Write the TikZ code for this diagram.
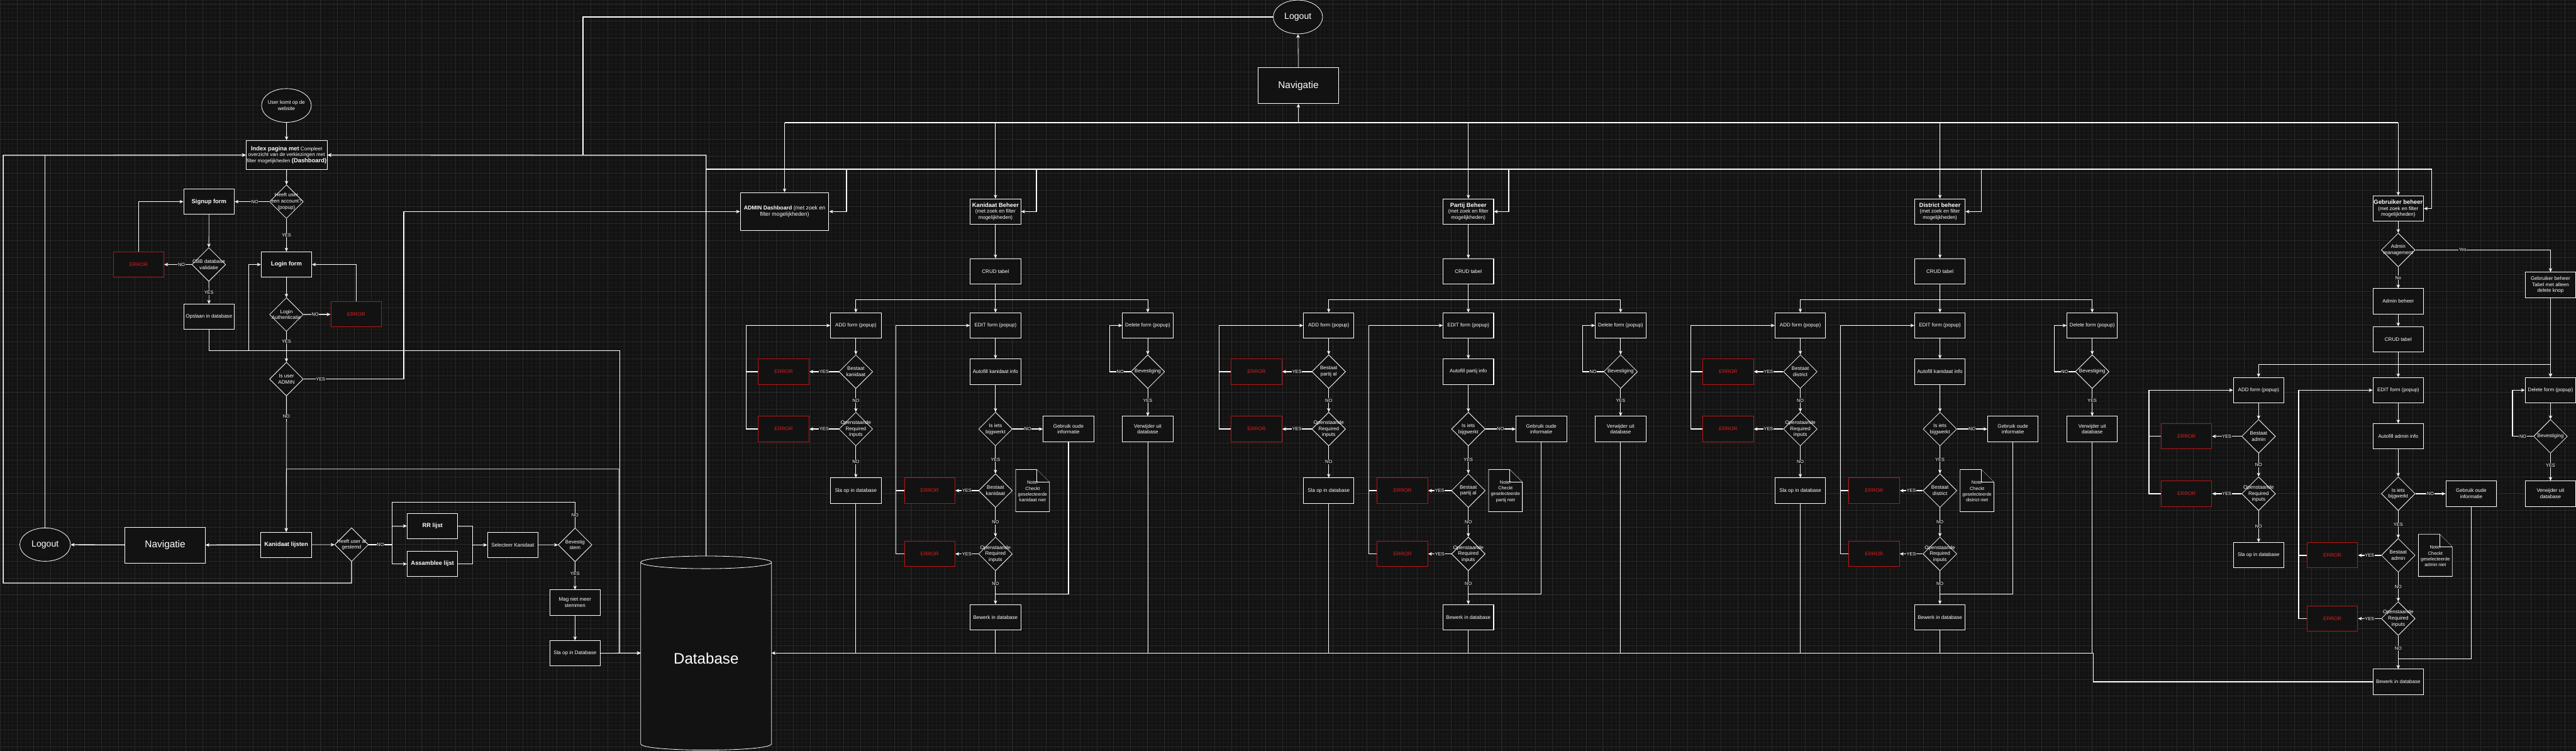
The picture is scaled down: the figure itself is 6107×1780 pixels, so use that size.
\documentclass[tikz,border=0pt]{standalone}
\usepackage{fontspec}
\setmainfont{Liberation Sans}
\usetikzlibrary{positioning, shapes.geometric, arrows.meta}

\definecolor{canvas}{RGB}{18,18,18}
\definecolor{gridminor}{RGB}{27,27,27}
\definecolor{gridmajor}{RGB}{42,42,42}
\definecolor{errred}{RGB}{190,20,20}
\definecolor{errtext}{RGB}{225,30,30}

\tikzset{
  box/.style={draw=white, fill=canvas, line width=1.5pt, minimum width=120pt, minimum height=60pt,
    align=center, inner sep=0pt, text=white, font=\fontsize{12}{14.5}\selectfont},
  errbox/.style={box, draw=errred, text=errtext},
  oval/.style={ellipse, draw=white, fill=canvas, line width=1.2pt, align=center, inner sep=-3pt,
    text=white, font=\fontsize{12}{14.5}\selectfont},
  dec/.style={diamond, draw=white, fill=canvas, line width=1.2pt, minimum width=80pt,
    minimum height=80pt, inner sep=0pt},
  dectext/.style={align=center, text=white, inner sep=0pt, font=\fontsize{12}{14.5}\selectfont},
  notebox/.style={draw=white, fill=canvas, line width=1.2pt, line join=miter},
  notetext/.style={align=center, text=white, inner sep=0pt, font=\fontsize{11}{14}\selectfont},
  lbl/.style={fill=canvas, text=white, inner sep=1pt, font=\fontsize{11}{12}\selectfont},
  wire/.style={draw=white, line width=1.2pt},
  fatwire/.style={draw=white, line width=2pt},
  flow/.style={wire, -{Stealth[length=9pt, width=8pt, inset=2.5pt]}},
  fatflow/.style={fatwire, -{Stealth[length=9pt, width=8pt, inset=2.5pt]}},
}

\newcommand{\boxtitle}[1]{{\fontsize{14}{16}\selectfont\bfseries #1}}

% one CRUD block: #1 prefix, #2 centre x, #3 y shift, #4 bestaat text, #5 autofill text, #6 note subject
\newcommand{\crudblock}[6]{%
  \begin{scope}[shift={(#2,#3)}]
    \node[box] (#1add) at (-331,771.5) {ADD form (popup)};
    \node[box] (#1edit) at (0,771.5) {EDIT form (popup)};
    \node[box] (#1del) at (361,771.5) {Delete form (popup)};
    % add branch
    \node[dec, label={[dectext]center:#4}] (#1addq) at (-331,881) {};
    \node[errbox] (#1adderr) at (-502,881) {ERROR};
    \node[dec, label={[dectext]center:Openstaande\\Required\\inputs}] (#1addreq) at (-331,1017) {};
    \node[errbox] (#1addreqerr) at (-502,1017) {ERROR};
    \node[box] (#1addsave) at (-331,1163) {Sla op in database};
    % edit branch
    \node[box] (#1fill) at (0,881) {#5};
    \node[dec, label={[dectext]center:Is iets\\bijgwerkt}] (#1changed) at (0,1017) {};
    \node[box] (#1old) at (173,1017) {Gebruik oude\\informatie};
    \node[dec, label={[dectext]center:#4}] (#1editq) at (0,1163) {};
    \node[errbox] (#1editerr) at (-156,1163) {ERROR};
    \draw[notebox] (48,1113) -- (98,1113) -- (128,1143) -- (128,1213) -- (48,1213) -- cycle;
    \draw[notebox] (98,1113) -- (98,1143) -- (128,1143);
    \node[notetext] (#1note) at (88,1165) {Note:\\Checkt\\geselecteerde\\#6 niet};
    \node[dec, label={[dectext]center:Openstaande\\Required\\inputs}] (#1editreq) at (0,1313) {};
    \node[errbox] (#1editreqerr) at (-156,1313) {ERROR};
    \node[box] (#1save) at (0,1463) {Bewerk in database};
    % delete branch
    \node[dec, label={[dectext]center:Bevestiging}] (#1sure) at (361,881) {};
    \node[box] (#1rm) at (361,1017) {Verwijder uit\\database};
    % connectors
    \draw[flow] (0,710) -| (#1add.north);
    \draw[flow] (0,710) -| (#1del.north);
    \draw[flow] (#1add) -- (#1addq);
    \draw[fatflow] (#1addq) -- node[lbl]{YES} (#1adderr);
    \draw[flow] (#1addq) -- node[lbl]{NO} (#1addreq);
    \draw[fatflow] (#1addreq) -- node[lbl]{YES} (#1addreqerr);
    \draw[flow] (#1addreq) -- node[lbl]{NO} (#1addsave);
    \draw[fatwire] (#1adderr.west) -- (-591,881);
    \draw[fatflow] (#1addreqerr.west) -- (-591,1017) |- (#1add.west);
    \draw[flow] (#1edit) -- (#1fill);
    \draw[flow] (#1fill) -- (#1changed);
    \draw[fatflow] (#1changed) -- node[lbl]{NO} (#1old);
    \draw[flow] (#1changed) -- node[lbl]{YES} (#1editq);
    \draw[fatflow] (#1editq) -- node[lbl]{YES} (#1editerr);
    \draw[flow] (#1editq) -- node[lbl]{NO} (#1editreq);
    \draw[fatflow] (#1editreq) -- node[lbl]{YES} (#1editreqerr);
    \draw[flow] (#1editreq) -- node[lbl, pos=0.38]{NO} (#1save);
    \draw[fatwire] (#1old.south) |- (0,1408);
    \draw[fatwire] (#1editerr.west) -- (-236,1163);
    \draw[fatflow] (#1editreqerr.west) -- (-236,1313) |- (#1edit.west);
    \draw[flow] (#1del) -- (#1sure);
    \draw[fatflow] (#1sure.west) -- node[lbl]{NO} (271,881) |- (#1del.west);
    \draw[flow] (#1sure) -- node[lbl, pos=0.43]{YES} (#1rm);
  \end{scope}}

\begin{document}
\begin{tikzpicture}[x=1pt, y=-1pt]
  % canvas and grid
  \fill[canvas] (0,0) rectangle (6107,1780);
  \useasboundingbox (0,0) rectangle (6107,1780);
  \begin{scope}[y=1pt, yshift=-10pt]
    \draw[gridminor, line width=0.6pt] (0,-1800) grid[step=10] (6107,20);
    \draw[gridmajor, line width=0.8pt] (0,-1800) grid[step=40] (6107,20);
  \end{scope}

  % login and voting flow
  \node[oval, minimum width=118pt, minimum height=80pt] (start) at (679,250) {User komt op de\\website};
  \node[box, minimum width=192pt, minimum height=69pt] (index) at (679.5,367.5)
    {\boxtitle{Index pagina met} Compleet\\overzicht van de verkiezingen met\\filter mogelijkheden \boxtitle{(Dashboard)}};
  \node[dec, label={[dectext]center:Heeft user\\een account?\\(popup)}] (hasacc) at (679,478) {};
  \node[box] (signup) at (495.5,478) {\boxtitle{Signup form}};
  \node[dec, label={[dectext]center:CBB database\\validatie}] (cbb) at (495,627) {};
  \node[errbox] (signerr) at (328.5,627) {ERROR};
  \node[box] (opslaan) at (495.5,751) {Opslaan in database};
  \node[box] (login) at (679,627) {\boxtitle{Login form}};
  \node[dec, label={[dectext]center:Login\\Authenticatie}] (auth) at (679,745.6) {};
  \node[errbox] (loginerr) at (844.4,745) {ERROR};
  \node[dec, label={[dectext]center:Is user\\ADMIN}] (isadmin) at (679,898.6) {};
  \node[box] (kanlijst) at (678.6,1291.5) {\boxtitle{Kanidaat lijsten}};
  \node[box, minimum width=190pt, minimum height=85pt, font=\fontsize{23}{26}\selectfont] (navleft) at (391.5,1292) {Navigatie};
  \node[oval, minimum width=120pt, minimum height=79pt, font=\fontsize{21}{24}\selectfont] (logoutleft) at (107,1291) {Logout};
  \node[dec, label={[dectext]center:Heeft user al\\gestemd}] (gestemd) at (833.5,1291) {};
  \node[box] (rr) at (1025.3,1246.7) {\boxtitle{RR lijst}};
  \node[box] (assam) at (1025.3,1336.7) {\boxtitle{Assamblee lijst}};
  \node[box] (selecteer) at (1215.6,1291.7) {Selecteer Kanidaat};
  \node[dec, label={[dectext]center:Bevestig\\stem}] (bevestig) at (1363.3,1291.5) {};
  \node[box] (magniet) at (1363.2,1428.3) {Mag niet meer\\stemmen};
  \node[box] (slaopdb) at (1363.2,1548.5) {Sla op in Database};

  % database
  \fill[canvas] (1519,1333) -- (1519,1763) .. controls (1519,1783) and (1829,1783) .. (1829,1763) -- (1829,1333) -- cycle;
  \draw[wire] (1519,1333) -- (1519,1763) .. controls (1519,1783) and (1829,1783) .. (1829,1763) -- (1829,1333);
  \draw[wire, fill=canvas] (1674,1333) ellipse [x radius=155, y radius=15];
  \node[text=white, font=\fontsize{36}{40}\selectfont] (db) at (1674,1561) {Database};
  \coordinate (dbwest) at (1519,1548);
  \coordinate (dbeast) at (1829,1548);
  \coordinate (dbtop) at (1674,1318);

  % top navigation
  \node[oval, minimum width=117pt, minimum height=80pt, font=\fontsize{21}{24}\selectfont] (logouttop) at (3077,40.3) {Logout};
  \node[box, minimum width=190pt, minimum height=85pt, font=\fontsize{23}{26}\selectfont] (navtop) at (3078,202.8) {Navigatie};
  \coordinate (busA) at (0,290.7);
  \coordinate (busB) at (0,401);

  % admin sections
  \node[box, minimum width=210pt, minimum height=90pt, font=\fontsize{13}{15}\selectfont] (admin) at (1860,501.5)
    {{\bfseries ADMIN Dashboard} (met zoek en\\filter mogelijkheden)};

  \node[box] (kbeheer) at (2360,501.5) {\boxtitle{Kanidaat Beheer}\\(met zoek en filter\\mogelijkheden)};
  \node[box] (kcrud) at (2360,643) {CRUD tabel};
  \crudblock{k}{2360}{0}{Bestaat\\kanidaat}{Autofill kanidaat info}{kanidaat}

  \node[box] (pbeheer) at (3481,501.5) {\boxtitle{Partij Beheer}\\(met zoek en filter\\mogelijkheden)};
  \node[box] (pcrud) at (3481,643) {CRUD tabel};
  \crudblock{p}{3481}{0}{Bestaat\\partij al}{Autofill partij info}{partij}

  \node[box] (dbeheer) at (4599,501.5) {\boxtitle{District beheer}\\(met zoek en filter\\mogelijkheden)};
  \node[box] (dcrud) at (4599,643) {CRUD tabel};
  \crudblock{d}{4599}{0}{Bestaat\\district}{Autofill kanidaat info}{district}

  \node[box] (gbeheer) at (5685.5,494.3) {\boxtitle{Gebruiker beheer}\\(met zoek en filter\\mogelijkheden)};
  \node[dec, label={[dectext]center:Admin\\management}] (gadminq) at (5685.5,592.6) {};
  \node[box] (gtabel) at (6046.5,675.5) {Gebruiker beheer\\Tabel met alleen\\delete knop};
  \node[box] (gadmin) at (5685.5,714.2) {Admin beheer};
  \node[box] (gcrud) at (5685.5,804.3) {CRUD tabel};
  \crudblock{g}{5685.5}{153.3}{Bestaat\\admin}{Autofill admin info}{admin}

  % login and voting connectors
  \draw[flow] (start) -- (index);
  \draw[flow] (index) -- (hasacc);
  \draw[fatflow] (hasacc) -- node[lbl, pos=0.42]{NO} (signup);
  \draw[flow] (hasacc) -- node[lbl]{YES} (login);
  \draw[flow] (signup) -- (cbb);
  \draw[fatflow] (cbb) -- node[lbl, pos=0.37]{NO} (signerr);
  \draw[fatflow] (signerr.north) |- (signup.west);
  \draw[flow] (cbb) -- node[lbl]{YES} (opslaan);
  \draw[flow] (opslaan.south) -- (495.5,831) -| (590,627) -- (login.west);
  \draw[flow] (590,831) -- (1469,831) -- (1469,1548) -- (dbwest);
  \draw[flow] (login) -- (auth);
  \draw[fatflow] (auth) -- node[lbl, pos=0.43]{NO} (loginerr);
  \draw[fatflow] (loginerr.north) |- (login.east);
  \draw[flow] (auth) -- node[lbl, pos=0.33]{YES} (isadmin);
  \draw[fatflow] (isadmin.east) -- node[lbl, pos=0.17]{YES} (957,898.6) |- (admin.west);
  \draw[flow] (isadmin) -- node[lbl, pos=0.15]{NO} (kanlijst);
  \draw[flow] (dbwest) -- (1467,1548) |- (679,1112) -- (kanlijst.north);
  \draw[fatflow] (kanlijst) -- (navleft);
  \draw[fatflow] (navleft) -- (logoutleft);
  \draw[fatflow] (logoutleft.north) |- (index.west);
  \draw[flow] (kanlijst) -- (gestemd);
  \draw[fatflow] (gestemd.south) -- (833.5,1382) -| (7.6,368) -- (index.west);
  \draw[fatflow] (gestemd.east) -- node[lbl]{NO} (930,1291) |- (rr.west);
  \draw[fatflow] (930,1291) |- (assam.west);
  \draw[fatflow] (rr.east) -| (1120,1291.7) -- (selecteer.west);
  \draw[fatwire] (assam.east) -| (1120,1291.7);
  \draw[flow] (selecteer) -- (bevestig);
  \draw[wire] (bevestig.north) -- node[lbl]{NO} (1363.3,1191) -| (930,1291);
  \draw[flow] (bevestig) -- node[lbl, pos=0.43]{YES} (magniet);
  \draw[flow] (magniet) -- (slaopdb);
  \draw[flow] (slaopdb) -- (dbwest);

  % navigation connectors
  \draw[flow] (navtop) -- (logouttop);
  \draw[fatflow] (logouttop.west) -- (1382,40.3) |- (index.east);
  \draw[fatwire] (1860,290.7) -- (5685.5,290.7);
  \draw[flow] (navtop.south |- busA) -- (navtop.south);
  \foreach \n in {admin,kbeheer,pbeheer,dbeheer,gbeheer}
    \draw[flow] (\n.north |- busA) -- (\n.north);

  % database connectors
  \draw[fatflow] (dbtop) -- (1674,368) -- (index.east);
  \draw[fatwire] (1674,401) -- (5765,401);
  \draw[fatflow] (2007,401) |- (admin.east);
  \draw[fatflow] (2457,401) |- (kbeheer.east);
  \draw[fatflow] (3577,401) |- (pbeheer.east);
  \draw[fatflow] (4697,401) |- (dbeheer.east);
  \draw[fatflow] (5765,401) |- (gbeheer.east);
  \foreach \n in {kaddsave,ksave,krm,paddsave,psave,prm,daddsave,dsave,drm}
    \draw[wire] (\n.south) -- (\n.south |- dbeast);
  \draw[fatflow] (gsave.west) -| (4963,1548) -- (dbeast);

  % section connectors
  \draw[flow] (kbeheer) -- (kcrud);
  \draw[flow] (kcrud) -- (kedit);
  \draw[flow] (pbeheer) -- (pcrud);
  \draw[flow] (pcrud) -- (pedit);
  \draw[flow] (dbeheer) -- (dcrud);
  \draw[flow] (dcrud) -- (dedit);
  \draw[flow] (gbeheer) -- (gadminq);
  \draw[flow] (gadminq) -- node[lbl]{No} (gadmin);
  \draw[flow] (gadminq.east) -- node[lbl, pos=0.35]{Yes} (gadminq.east -| gtabel) -- (gtabel);
  \draw[flow] (gadmin) -- (gcrud);
  \draw[flow] (gcrud) -- (gedit);
  \draw[flow] (gtabel) -- (gdel);
\end{tikzpicture}
\end{document}
